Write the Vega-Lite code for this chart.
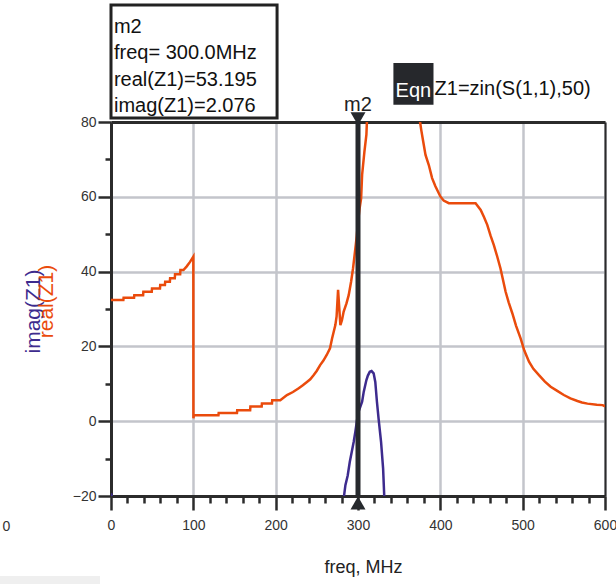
{
  "$schema": "https://vega.github.io/schema/vega-lite/v6.json",
  "width": 494,
  "height": 374,
  "autosize": "none",
  "padding": {"left": 111, "top": 122, "right": 11, "bottom": 88},
  "background": "white",
  "config": {
    "view": {"stroke": null},
    "font": "Liberation Sans",
    "axis": {"labelFont": "Liberation Sans", "titleFont": "Liberation Sans", "titleFontWeight": "normal"}
  },
  "datasets": {
    "curves": [
      {"f": 0, "v": 32.4, "s": "real"}, {"f": 15, "v": 32.4, "s": "real"}, {"f": 15.3, "v": 33.0, "s": "real"},
      {"f": 28, "v": 33.0, "s": "real"}, {"f": 28.3, "v": 33.7, "s": "real"}, {"f": 39, "v": 33.7, "s": "real"},
      {"f": 39.3, "v": 34.6, "s": "real"}, {"f": 49.5, "v": 34.6, "s": "real"}, {"f": 49.8, "v": 35.5, "s": "real"},
      {"f": 59.5, "v": 35.5, "s": "real"}, {"f": 59.8, "v": 36.4, "s": "real"}, {"f": 65.5, "v": 36.4, "s": "real"},
      {"f": 65.8, "v": 37.3, "s": "real"}, {"f": 71.5, "v": 37.3, "s": "real"}, {"f": 71.8, "v": 38.2, "s": "real"},
      {"f": 77.5, "v": 38.2, "s": "real"}, {"f": 77.8, "v": 39.3, "s": "real"}, {"f": 84, "v": 39.3, "s": "real"},
      {"f": 84.3, "v": 40.4, "s": "real"}, {"f": 88, "v": 40.4, "s": "real"}, {"f": 92, "v": 41.4, "s": "real"},
      {"f": 96, "v": 42.6, "s": "real"}, {"f": 100, "v": 44.0, "s": "real"}, {"f": 100.1, "v": 0.8, "s": "real"},
      {"f": 100.6, "v": 1.6, "s": "real"}, {"f": 130.5, "v": 1.6, "s": "real"}, {"f": 130.8, "v": 2.2, "s": "real"},
      {"f": 153, "v": 2.2, "s": "real"}, {"f": 153.3, "v": 2.9, "s": "real"}, {"f": 169, "v": 2.9, "s": "real"},
      {"f": 169.3, "v": 3.9, "s": "real"}, {"f": 183, "v": 3.9, "s": "real"}, {"f": 183.3, "v": 4.7, "s": "real"},
      {"f": 195.5, "v": 4.7, "s": "real"}, {"f": 195.8, "v": 5.6, "s": "real"}, {"f": 205.6, "v": 5.6, "s": "real"},
      {"f": 213.7, "v": 7.0, "s": "real"}, {"f": 221, "v": 7.8, "s": "real"}, {"f": 228, "v": 8.8, "s": "real"},
      {"f": 233, "v": 9.6, "s": "real"}, {"f": 238, "v": 10.5, "s": "real"}, {"f": 242, "v": 11.2, "s": "real"},
      {"f": 246, "v": 12.3, "s": "real"}, {"f": 250, "v": 13.5, "s": "real"}, {"f": 254, "v": 15.0, "s": "real"},
      {"f": 258, "v": 16.2, "s": "real"}, {"f": 262, "v": 17.7, "s": "real"}, {"f": 266, "v": 19.5, "s": "real"},
      {"f": 268.5, "v": 22.1, "s": "real"}, {"f": 272.5, "v": 25.7, "s": "real"}, {"f": 274, "v": 28.0, "s": "real"},
      {"f": 275.8, "v": 35.1, "s": "real"}, {"f": 278.6, "v": 25.7, "s": "real"}, {"f": 280.5, "v": 27.0, "s": "real"},
      {"f": 282.6, "v": 29.3, "s": "real"}, {"f": 286, "v": 31.5, "s": "real"}, {"f": 288.7, "v": 33.7, "s": "real"},
      {"f": 291.6, "v": 37.3, "s": "real"}, {"f": 294, "v": 40.9, "s": "real"}, {"f": 296.8, "v": 46.2, "s": "real"},
      {"f": 298.5, "v": 49.5, "s": "real"}, {"f": 300, "v": 53.195, "s": "real"}, {"f": 302, "v": 57.0, "s": "real"},
      {"f": 303.8, "v": 59.6, "s": "real"}, {"f": 305, "v": 65.9, "s": "real"}, {"f": 307.8, "v": 72.1, "s": "real"},
      {"f": 310.2, "v": 76.6, "s": "real"}, {"f": 311, "v": 81.0, "s": "real"}, {"f": 313, "v": 100, "s": "real"},
      {"f": 325, "v": 160, "s": "real"}, {"f": 345, "v": 200, "s": "real"}, {"f": 365, "v": 160, "s": "real"},
      {"f": 373, "v": 100, "s": "real"}, {"f": 375, "v": 80.6, "s": "real"}, {"f": 376.8, "v": 77.9, "s": "real"},
      {"f": 379.2, "v": 74.8, "s": "real"}, {"f": 382, "v": 71.2, "s": "real"}, {"f": 386, "v": 68.5, "s": "real"},
      {"f": 390, "v": 65.0, "s": "real"}, {"f": 394, "v": 62.8, "s": "real"}, {"f": 400, "v": 60.1, "s": "real"},
      {"f": 404, "v": 59.0, "s": "real"}, {"f": 410.3, "v": 58.3, "s": "real"}, {"f": 442.8, "v": 58.3, "s": "real"},
      {"f": 449, "v": 56.5, "s": "real"}, {"f": 453, "v": 54.6, "s": "real"}, {"f": 457, "v": 52.5, "s": "real"},
      {"f": 461, "v": 49.6, "s": "real"}, {"f": 465, "v": 47.1, "s": "real"}, {"f": 469, "v": 44.1, "s": "real"},
      {"f": 473, "v": 40.9, "s": "real"}, {"f": 479.3, "v": 34.6, "s": "real"}, {"f": 483, "v": 31.8, "s": "real"},
      {"f": 487.5, "v": 28.8, "s": "real"}, {"f": 492, "v": 25.5, "s": "real"}, {"f": 497.6, "v": 22.1, "s": "real"},
      {"f": 502, "v": 18.9, "s": "real"}, {"f": 507.7, "v": 15.9, "s": "real"}, {"f": 513, "v": 14.0, "s": "real"},
      {"f": 519.8, "v": 12.3, "s": "real"}, {"f": 527, "v": 10.6, "s": "real"}, {"f": 534, "v": 9.2, "s": "real"},
      {"f": 542, "v": 8.1, "s": "real"}, {"f": 550, "v": 7.0, "s": "real"}, {"f": 558, "v": 6.1, "s": "real"},
      {"f": 566.5, "v": 5.4, "s": "real"}, {"f": 572, "v": 5.0, "s": "real"}, {"f": 578.7, "v": 4.7, "s": "real"},
      {"f": 590, "v": 4.4, "s": "real"}, {"f": 597, "v": 4.3, "s": "real"}, {"f": 600, "v": 4.0, "s": "real"},
      {"f": 0, "v": -19.3, "s": "imag"}, {"f": 1.5, "v": -20.5, "s": "imag"}, {"f": 3, "v": -60, "s": "imag"},
      {"f": 281, "v": -60, "s": "imag"}, {"f": 282.6, "v": -20.7, "s": "imag"}, {"f": 284.7, "v": -17.1, "s": "imag"},
      {"f": 287.5, "v": -14.5, "s": "imag"}, {"f": 290, "v": -10.9, "s": "imag"}, {"f": 291.6, "v": -9.1, "s": "imag"},
      {"f": 294.8, "v": -5.5, "s": "imag"}, {"f": 296.8, "v": -2.8, "s": "imag"}, {"f": 300, "v": 2.076, "s": "imag"},
      {"f": 305, "v": 5.2, "s": "imag"}, {"f": 307, "v": 7.9, "s": "imag"}, {"f": 310.2, "v": 11.0, "s": "imag"},
      {"f": 312, "v": 12.2, "s": "imag"}, {"f": 314.3, "v": 13.2, "s": "imag"}, {"f": 316.5, "v": 13.4, "s": "imag"},
      {"f": 319, "v": 12.8, "s": "imag"}, {"f": 321, "v": 10.5, "s": "imag"}, {"f": 323, "v": 5.2, "s": "imag"},
      {"f": 325, "v": 0.7, "s": "imag"}, {"f": 328, "v": -5.5, "s": "imag"}, {"f": 330.5, "v": -12.7, "s": "imag"},
      {"f": 332, "v": -20.7, "s": "imag"}, {"f": 333.5, "v": -60, "s": "imag"}, {"f": 600, "v": -60, "s": "imag"}
    ],
    "marker": [
      {"name": "m2", "freq": 300, "real": 53.195, "imag": 2.076}
    ]
  },
  "resolve": {"axis": {"x": "independent", "y": "independent"}},
  "layer": [
    {
      "data": {"name": "curves"},
      "mark": {"type": "line", "clip": true, "strokeWidth": 2.5},
      "encoding": {
        "x": {
          "field": "f", "type": "quantitative",
          "scale": {"domain": [0, 600], "nice": false, "zero": false},
          "axis": {
            "orient": "bottom",
            "values": [0, 20, 40, 60, 80, 100, 120, 140, 160, 180, 200, 220, 240, 260, 280, 300, 320, 340, 360, 380, 400, 420, 440, 460, 480, 500, 520, 540, 560, 580, 600],
            "labelExpr": "datum.value % 100 === 0 ? datum.label : ''",
            "labelFontSize": 14, "labelColor": "#333333", "labelPadding": 8,
            "labelFlush": false, "labelOverlap": false,
            "tickColor": "#2b2b2b", "tickWidth": 2.5,
            "tickSize": {"condition": {"test": "datum.value % 100 === 0", "value": 14}, "value": 7},
            "domainColor": "#2b2b2b", "domainWidth": 3,
            "grid": true, "gridColor": "#c3c5cb", "gridWidth": 2.5,
            "gridOpacity": {"condition": {"test": "datum.value % 100 === 0", "value": 1}, "value": 0},
            "title": "freq, MHz", "titleFontSize": 18, "titleColor": "#222222",
            "titleX": 252, "titleY": 71, "titleBaseline": "middle", "titleAnchor": null
          }
        },
        "y": {
          "field": "v", "type": "quantitative",
          "scale": {"domain": [-20, 80], "nice": false, "zero": false},
          "axis": {
            "orient": "left",
            "values": [-20, -10, 0, 10, 20, 30, 40, 50, 60, 70, 80],
            "labelExpr": "datum.value % 20 === 0 ? datum.label : ''",
            "labelFontSize": 14, "labelColor": "#333333", "labelPadding": 2,
            "labelFlush": false, "labelOverlap": false,
            "tickColor": "#2b2b2b", "tickWidth": 2.5,
            "tickSize": {"condition": {"test": "datum.value % 20 === 0", "value": 13}, "value": 6},
            "domainColor": "#2b2b2b", "domainWidth": 3,
            "grid": true, "gridColor": "#c3c5cb", "gridWidth": 2.5,
            "gridOpacity": {"condition": {"test": "datum.value % 20 === 0", "value": 1}, "value": 0},
            "title": "imag(Z1)", "titleFontSize": 21, "titleColor": "#3d2b8e",
            "titleAngle": 270, "titleAlign": "center", "titleBaseline": "middle",
            "titleX": -78, "titleY": 189
          }
        },
        "color": {
          "field": "s", "type": "nominal",
          "scale": {"domain": ["real", "imag"], "range": ["#ea4b0c", "#3d2b8e"]},
          "legend": null
        }
      }
    },
    {
      "data": {"name": "marker"},
      "mark": {"type": "rule", "color": "#26292d", "strokeWidth": 5},
      "encoding": {
        "x": {
          "field": "freq", "type": "quantitative",
          "axis": {"orient": "top", "labels": false, "ticks": false, "grid": false, "title": null, "domainColor": "#2b2b2b", "domainWidth": 3}
        },
        "y": {
          "datum": -20, "type": "quantitative",
          "axis": {
            "orient": "right", "labels": false, "ticks": false, "grid": false,
            "domainColor": "#2b2b2b", "domainWidth": 2,
            "title": "real(Z1)", "titleFontSize": 21, "titleColor": "#ea4b0c",
            "titleAngle": 270, "titleAlign": "center", "titleBaseline": "middle",
            "titleX": -559, "titleY": 179
          }
        },
        "y2": {"datum": 80}
      }
    },
    {
      "data": {"name": "marker"},
      "mark": {"type": "point", "shape": "triangle-down", "filled": true, "size": 225, "color": "#26292d", "opacity": 1},
      "encoding": {
        "x": {"field": "freq", "type": "quantitative", "axis": null},
        "y": {"datum": 80.9, "type": "quantitative", "axis": null}
      }
    },
    {
      "data": {"name": "marker"},
      "mark": {"type": "point", "shape": "triangle-up", "filled": true, "size": 225, "color": "#26292d", "opacity": 1},
      "encoding": {
        "x": {"field": "freq", "type": "quantitative", "axis": null},
        "y": {"datum": -21.9, "type": "quantitative", "axis": null}
      }
    },
    {
      "data": {"name": "marker"},
      "mark": {"type": "text", "fontSize": 20, "color": "#222222", "align": "center", "baseline": "alphabetic"},
      "encoding": {
        "x": {"field": "freq", "type": "quantitative", "axis": null},
        "y": {"datum": 82.9, "type": "quantitative", "axis": null},
        "text": {"field": "name"}
      }
    },
    {
      "data": {"name": "marker"},
      "mark": {"type": "rect", "fill": "white", "stroke": "#222222", "strokeWidth": 3},
      "encoding": {
        "x": {"datum": 0, "type": "quantitative", "axis": null},
        "x2": {"datum": 201.7},
        "y": {"datum": 111.3, "type": "quantitative", "axis": null},
        "y2": {"datum": 81.1}
      }
    },
    {
      "data": {"name": "marker"},
      "transform": [
        {"calculate": "[datum.name, 'freq= ' + format(datum.freq, '.1f') + 'MHz', 'real(Z1)=' + format(datum.real, '.3f'), 'imag(Z1)=' + format(datum.imag, '.3f')]", "as": "lines"}
      ],
      "mark": {"type": "text", "fontSize": 20, "color": "#111111", "align": "left", "baseline": "alphabetic", "lineHeight": 26.5},
      "encoding": {
        "x": {"datum": 3.6, "type": "quantitative", "axis": null},
        "y": {"datum": 103.8, "type": "quantitative", "axis": null},
        "text": {"field": "lines"}
      }
    },
    {
      "data": {"name": "marker"},
      "mark": {"type": "rect", "fill": "#26282c"},
      "encoding": {
        "x": {"datum": 343, "type": "quantitative", "axis": null},
        "x2": {"datum": 391.7},
        "y": {"datum": 95.8, "type": "quantitative", "axis": null},
        "y2": {"datum": 84.6}
      }
    },
    {
      "data": {"name": "marker"},
      "mark": {"type": "text", "fontSize": 20, "color": "white", "align": "center", "baseline": "alphabetic"},
      "encoding": {
        "x": {"datum": 367.3, "type": "quantitative", "axis": null},
        "y": {"datum": 86.7, "type": "quantitative", "axis": null},
        "text": {"value": "Eqn"}
      }
    },
    {
      "data": {"name": "marker"},
      "mark": {"type": "text", "fontSize": 20, "color": "#111111", "align": "left", "baseline": "alphabetic"},
      "encoding": {
        "x": {"datum": 393, "type": "quantitative", "axis": null},
        "y": {"datum": 87.1, "type": "quantitative", "axis": null},
        "text": {"value": "Z1=zin(S(1,1),50)"}
      }
    },
    {
      "data": {"name": "marker"},
      "mark": {"type": "text", "fontSize": 14, "color": "#333333", "align": "center", "baseline": "middle"},
      "encoding": {
        "x": {"datum": -127, "type": "quantitative", "axis": null},
        "y": {"datum": -28.3, "type": "quantitative", "axis": null},
        "text": {"value": "0"}
      }
    },
    {
      "data": {"name": "marker"},
      "mark": {"type": "rect", "fill": "#efefef"},
      "encoding": {
        "x": {"datum": -135, "type": "quantitative", "axis": null},
        "x2": {"datum": -13.4},
        "y": {"datum": -41.4, "type": "quantitative", "axis": null},
        "y2": {"datum": -43.6}
      }
    }
  ]
}
